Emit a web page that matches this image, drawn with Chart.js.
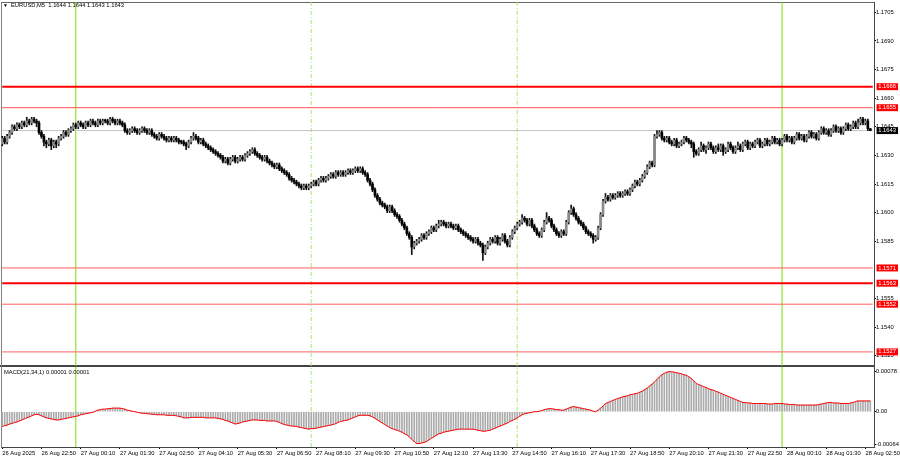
<!DOCTYPE html>
<html lang="en">
<head>
<meta charset="UTF-8">
<title>EURUSD,M5</title>
<script src="https://cdn.jsdelivr.net/npm/chart.js@4/dist/chart.umd.min.js"></script>
<style>
  html, body { margin: 0; padding: 0; background: #fff; }
  #wrap   { position: relative; width: 900px; height: 460px; overflow: hidden; background: #fff; }
  canvas  { position: absolute; left: 0; }
  #price  { top: 0; }
  #macd   { top: 366px; }
  .txt    { position: absolute; font: 5.8px 'Liberation Sans', Arial, sans-serif; color: #000;
            white-space: pre; line-height: 1; }
  #title  { left: 3px; top: 3px; }
  #title .tri { font-size: 5px; margin-right: 3px; }
  #macdTitle { left: 4px; top: 370px; }
</style>
</head>
<body>
<div id="wrap">
  <canvas id="price" width="900" height="368"></canvas>
  <canvas id="macd" width="900" height="94"></canvas>
  <div id="title" class="txt"><span class="tri">▼</span>EURUSD,M5  1.1644 1.1644 1.1643 1.1643</div>
  <div id="macdTitle" class="txt">MACD(21,34,1) 0.00001 0.00001</div>
</div>
<script>
// ---------------------------------------------------------------------------
// Daten: M5-Kerzen ab 26 Aug 21:30, Kurse in Pips über 1.1500
// ---------------------------------------------------------------------------

const BASE = 1.15;          // Kurs = BASE + pips / 10000
const FIRST_OPEN = 136;

const closes = [
  139,137,140,142,145,144,146,145,147,146, 148,147,149,148,147,142,140,137,136,138,
  135,137,136,139,140,142,141,143,144,146, 145,147,146,145,147,146,148,147,146,148,
  147,148,148,147,149,148,147,148,147,146, 143,142,143,144,143,142,143,144,143,142,
  143,141,140,139,141,140,139,138,139,138, 139,138,137,137,136,135,137,139,140,139,
  137,138,136,135,134,133,132,131,130,129, 127,128,126,128,129,127,128,129,128,130,
  131,132,133,131,130,129,128,129,127,126, 125,124,125,123,122,121,120,118,117,116,
  115,114,113,114,113,114,115,116,115,117, 118,117,118,119,120,119,121,120,121,120,
  121,122,121,122,123,122,123,121,120,117, 115,112,109,107,105,104,103,101,103,101,
  99,98,96,94,92,89,87,82,84,85,           86,88,87,89,90,92,91,93,94,95,
  94,93,94,93,92,93,91,90,89,88,           87,86,85,86,84,83,79,82,84,86,
  85,87,84,86,88,85,83,87,90,92,           94,95,97,96,94,96,93,91,89,88,
  91,95,97,96,93,91,89,88,90,89,           95,100,102,99,97,95,94,92,90,89,
  88,86,87,92,99,106,108,107,109,108,      109,110,109,110,111,110,112,114,116,115,
  117,119,121,124,126,125,140,141,142,139, 138,139,137,136,138,135,136,137,139,138,
  137,136,132,131,133,135,133,134,136,134, 132,134,133,135,132,133,136,134,132,134,
  135,133,136,137,134,136,135,137,138,135, 136,138,136,137,139,137,138,136,138,140,
  138,139,137,139,141,139,140,138,140,142, 140,141,139,142,144,142,143,141,143,145,
  143,144,142,144,146,144,145,147,145,147, 149,147,148,144,143
];

const highs = [
  140,140,141,143,146,146,147,147,148,148, 150,149,150,150,149,148,143,141,138,139,
  139,138,138,140,141,143,143,144,145,147, 147,148,148,147,148,148,149,149,148,149,
  149,149,149,149,150,150,149,149,149,148, 147,144,144,145,145,144,144,145,145,144,
  144,144,142,141,142,142,141,140,140,140, 140,140,139,138,138,137,138,140,142,141,
  140,139,139,137,136,135,134,133,132,131, 130,129,129,129,130,130,129,130,130,131,
  132,133,134,134,132,131,130,130,130,128, 127,126,126,126,124,123,122,121,119,118,
  117,116,115,115,115,115,116,117,117,118, 119,119,119,120,121,121,122,122,122,122,
  122,123,123,123,124,124,124,124,122,121, 118,116,113,110,108,106,105,104,104,104,
  102,100,99,97,95,93,90,88,85,86,         87,89,89,90,91,93,93,94,96,96,
  96,95,95,95,94,94,94,92,91,90,           89,88,87,87,87,85,84,83,85,87,
  87,88,88,87,89,89,86,88,91,93,           95,96,99,98,97,97,97,94,92,90,
  92,96,100,98,97,94,92,90,91,91,          96,101,104,103,100,98,96,95,93,91,
  90,89,88,93,100,107,110,109,110,110,     110,111,111,111,112,112,113,115,117,117,
  118,120,122,125,127,127,141,143,143,143, 140,140,140,138,139,139,137,138,140,140,
  139,138,137,133,134,137,136,135,137,137, 135,135,136,136,136,134,137,137,135,135,
  137,136,137,138,138,137,137,138,139,139, 137,139,139,138,140,140,139,139,139,141,
  141,140,140,140,142,142,141,141,141,143, 143,142,142,143,145,145,144,144,144,146,
  146,145,145,145,147,147,146,148,148,149, 150,150,149,149,144
];

const lows = [
  135,136,136,139,141,143,143,144,144,145, 145,146,146,147,145,141,139,135,134,135,
  133,134,134,135,138,139,140,140,142,143, 144,144,145,144,144,145,145,146,145,145,
  146,146,147,146,146,147,146,146,146,145, 142,141,141,142,142,141,141,142,142,141,
  141,140,139,138,138,139,138,137,137,137, 137,137,136,136,135,133,134,136,138,138,
  136,136,135,134,133,132,131,130,129,128, 126,126,125,125,127,126,126,127,127,127,
  129,130,131,130,129,128,127,127,126,125, 124,123,123,122,121,120,119,117,116,115,
  114,113,112,112,112,112,113,114,114,114, 116,116,116,117,118,118,118,119,119,119,
  119,120,120,120,121,121,121,120,119,116, 114,111,108,106,104,103,102,100,100,100,
  98,97,95,93,91,88,86,78,81,83,           84,85,86,86,88,89,90,90,92,93,
  93,92,92,92,91,91,90,89,88,87,           86,85,84,84,83,82,75,78,81,83,
  84,84,83,83,85,84,82,82,86,89,           91,93,94,95,93,93,92,90,88,87,
  87,90,94,95,92,90,88,87,87,88,           88,94,99,98,96,94,93,91,89,88,
  87,84,85,86,91,98,105,106,106,107,       107,108,108,108,109,109,109,111,113,114,
  114,116,118,120,123,124,124,139,140,138, 137,137,136,135,135,134,134,135,136,137,
  136,134,129,130,130,132,132,131,133,133, 131,131,132,132,130,131,132,133,131,131,
  133,132,132,135,133,133,134,134,136,134, 134,135,135,135,136,136,136,135,135,137,
  137,137,136,136,138,138,138,137,137,139, 139,139,138,138,141,141,141,140,140,142,
  142,142,141,141,143,143,143,144,144,144, 146,146,146,143,143
];

// MACD(21,34,1) in Einheiten von 0.00001
const macd = [
  -29,-27,-26,-24,-23,-21,-20,-18,-16,-14, -12,-10,-8,-6,-5,-6,-8,-10,-12,-13,
  -14,-15,-16,-16,-15,-14,-13,-12,-11,-10, -9,-8,-6,-5,-4,-3,-2,-1,1,3,
  4,5,5,6,6,7,7,7,7,6,                     5,3,2,1,0,-1,-2,-3,-3,-4,
  -4,-5,-5,-6,-6,-6,-6,-7,-7,-7,           -7,-8,-9,-10,-12,-12,-12,-11,-11,-11,
  -11,-11,-11,-12,-12,-12,-12,-12,-13,-14, -15,-17,-18,-20,-22,-24,-23,-22,-20,-19,
  -18,-17,-16,-16,-16,-17,-17,-17,-18,-18, -18,-18,-19,-21,-23,-25,-26,-27,-28,-28,
  -29,-30,-31,-32,-33,-34,-33,-33,-32,-31, -30,-29,-28,-27,-26,-25,-23,-21,-19,-18,
  -17,-16,-14,-12,-10,-8,-7,-7,-7,-7,      -8,-10,-13,-16,-19,-22,-25,-28,-31,-33,
  -35,-36,-38,-40,-43,-45,-49,-54,-58,-62, -62,-61,-60,-58,-55,-52,-49,-46,-43,-42,
  -40,-39,-38,-37,-36,-35,-34,-34,-34,-34, -34,-34,-34,-35,-36,-37,-38,-38,-37,-36,
  -34,-32,-30,-28,-26,-24,-22,-19,-17,-15, -12,-9,-6,-4,-3,-2,-1,0,0,1,
  2,4,5,6,6,5,4,4,3,3,                     5,7,9,10,9,8,7,6,5,4,
  3,1,0,3,7,11,16,18,20,22,                24,26,27,29,30,31,33,34,35,36,
  38,40,43,46,50,54,58,63,68,72,           75,77,78,78,77,76,75,74,72,71,
  68,65,60,55,53,51,49,47,45,43,           42,40,38,36,34,32,30,28,26,24,
  22,20,18,18,17,17,16,16,16,16,           16,16,15,15,15,16,16,16,16,15,
  15,14,14,14,13,13,13,13,13,13,           13,13,13,14,15,16,17,18,18,17,
  17,17,16,16,16,16,17,18,20,21,           21,21,21,21,21
];

// Horizontale Marken (Pips) und aktueller Bid
const levels = [166, 155, 71, 63, 52, 27];
const BID = 143;

// Achsenbeschriftungen
const priceTicks = [205, 190, 175, 160, 145, 130, 115, 100, 85, 55, 40, 25];
const macdTicks = [78, 0, -64];
const macdTickLabels = ['0.00078', '0.00', '-0.00064'];
const xTickLabels = [
  '26 Aug 2025', '26 Aug 22:50', '27 Aug 00:10', '27 Aug 01:30', '27 Aug 02:50',
  '27 Aug 04:10', '27 Aug 05:30', '27 Aug 06:50', '27 Aug 08:10', '27 Aug 09:30',
  '27 Aug 10:50', '27 Aug 12:10', '27 Aug 13:30', '27 Aug 14:50', '27 Aug 16:10',
  '27 Aug 17:30', '27 Aug 18:50', '27 Aug 20:10', '27 Aug 21:30', '27 Aug 22:50',
  '28 Aug 00:10', '28 Aug 01:30', '28 Aug 02:50'
];
const LABEL_EVERY = 16;

// Senkrechte Linien (Tageswechsel, Sessions)
const dayBreaks = ['27 Aug 00:00', '28 Aug 00:00'];
const sessionMarks = ['27 Aug 08:00', '27 Aug 15:00'];

// ---------------------------------------------------------------------------
// Kategorien (Zeitstempel je Kerze, plus ein leerer Slot rechts)
// ---------------------------------------------------------------------------

const START = Date.UTC(2025, 7, 26, 21, 30);
const pad2 = (n) => String(n).padStart(2, '0');
const categories = Array.from({ length: closes.length + 1 }, (_, i) => {
  const d = new Date(START + i * 5 * 60000);
  return `${d.getUTCDate()} Aug ${pad2(d.getUTCHours())}:${pad2(d.getUTCMinutes())}`;
});
const opens = closes.map((c, i) => (i === 0 ? FIRST_OPEN : closes[i - 1]));
const priceLabel = (v) => (BASE + v / 10000).toFixed(4);

// ---------------------------------------------------------------------------
// Stil
// ---------------------------------------------------------------------------

const FONT = { family: "'Liberation Sans', Arial, sans-serif", size: 5.8 };
Chart.defaults.font.family = FONT.family;
Chart.defaults.font.size = FONT.size;

const P_MIN = 19.6, P_MAX = 210.4;
const M_MIN = -68.8, M_MAX = 87.2;
const LEVEL_STYLE = {
  166: { color: '#ff0000', width: 2 },
  155: { color: '#ff5050', width: 1 },
  71:  { color: '#ff5a5a', width: 1 },
  63:  { color: '#ff0000', width: 2 },
  52:  { color: '#ff6060', width: 1 },
  27:  { color: '#ff8080', width: 1.4 },
};
const DAY_COLOR = '#76e000';
const SESSION_COLOR = '#a6ea6a';

// Achsen-Innenabstände (Label-Überhang) abschalten, damit der Plotbereich exakt sitzt
const noPad = (s) => { s.paddingTop = 0; s.paddingBottom = 0; s.paddingLeft = 0; s.paddingRight = 0; };

const hLine = (value, style, axis) => ({
  type: 'line', yAxisID: axis, order: 6,
  data: [{ x: categories[0], y: value }, { x: categories[categories.length - 1], y: value }],
  borderColor: style.color, borderWidth: style.width, pointRadius: 0, fill: false,
});

const vLine = (cat, lo, hi, color, dash, axis) => ({
  type: 'line', yAxisID: axis, order: 7,
  data: [{ x: cat, y: lo }, { x: cat, y: hi }],
  borderColor: color, borderWidth: 1, borderDash: dash, pointRadius: 0, fill: false,
});

const vLines = (lo, hi, axis) => [
  ...dayBreaks.map(c => vLine(c, lo, hi, DAY_COLOR, [], axis)),
  ...sessionMarks.map(c => vLine(c, lo, hi, SESSION_COLOR, [4, 2, 1, 2], axis)),
];

const frameAxis = (position, color, width) => ({
  type: position === 'left' ? 'linear' : 'category',
  position,
  ticks: { display: false },
  grid: { display: false },
  border: { display: true, color, width },
  afterFit: (s) => { noPad(s); if (position === 'left') s.width = 0; else s.height = 0; },
});

// ---------------------------------------------------------------------------
// Kurs-Chart
// ---------------------------------------------------------------------------

new Chart(document.getElementById('price'), {
  type: 'bar',
  data: {
    labels: categories,
    datasets: [
      // Dochte
      {
        yAxisID: 'y', order: 3, grouped: false, barThickness: 1,
        data: lows.map((l, i) => [l, highs[i]]),
        backgroundColor: '#111',
      },
      // Kerzenkörper (steigend hell, fallend schwarz)
      {
        yAxisID: 'y', order: 2, grouped: false, barThickness: 2, minBarLength: 1,
        data: closes.map((c, i) => [opens[i], c]),
        backgroundColor: (ctx) => closes[ctx.dataIndex] > opens[ctx.dataIndex] ? '#8a8a8a' : '#000',
        borderWidth: 0,
      },
      hLine(BID, { color: '#c4c4c4', width: 1 }, 'y'),
      ...levels.map(v => hLine(v, LEVEL_STYLE[v], 'y')),
      ...vLines(P_MIN, P_MAX, 'y'),
    ]
  },
  options: {
    responsive: false,
    animation: false,
    layout: { padding: { left: 1, top: 2, right: 0, bottom: 2 } },
    plugins: { legend: { display: false }, tooltip: { enabled: false } },
    scales: {
      x: frameAxis('bottom', '#454545', 2),
      xTop: frameAxis('top', '#666666', 1),
      yLeft: frameAxis('left', '#808080', 1),
      y: {
        type: 'linear', position: 'right', min: P_MIN, max: P_MAX, bounds: 'data', weight: 1,
        afterBuildTicks: (s) => { s.ticks = priceTicks.map(v => ({ value: v })); },
        ticks: { autoSkip: false, padding: 0, color: '#000', font: FONT, callback: (v) => priceLabel(v) },
        grid: { display: true, drawOnChartArea: false, drawTicks: true, tickLength: 2, color: '#000' },
        border: { display: true, color: '#454545', width: 1 },
        afterFit: (s) => { noPad(s); s.width = 26; },
      },
      // Preisschilder der Marken: gespiegelt, damit nicht auf die Achsenbreite geclippt wird
      yMarks: {
        type: 'linear', position: 'right', min: P_MIN, max: P_MAX, bounds: 'data', weight: 0,
        afterBuildTicks: (s) => { s.ticks = [...levels, BID].map(v => ({ value: v })); },
        ticks: {
          autoSkip: false, mirror: true, padding: 22, color: '#fff', font: FONT,
          showLabelBackdrop: true,
          backdropColor: (ctx) => ctx.tick && ctx.tick.value === BID ? '#000' : '#ff0000',
          backdropPadding: { left: 1.7, right: 2, top: 0, bottom: 0 },
          callback: (v) => priceLabel(v),
        },
        grid: { display: false },
        border: { display: false },
        afterFit: (s) => { noPad(s); s.width = 0; },
      },
    }
  }
});

// ---------------------------------------------------------------------------
// MACD-Fenster
// ---------------------------------------------------------------------------

new Chart(document.getElementById('macd'), {
  type: 'bar',
  data: {
    labels: categories,
    datasets: [
      {
        type: 'line', yAxisID: 'y', order: 1,
        data: macd, borderColor: '#ff0000', borderWidth: 1, pointRadius: 0, tension: 0, fill: false,
      },
      {
        yAxisID: 'y', order: 2, grouped: false, barThickness: 1,
        data: macd, backgroundColor: '#ababab',
      },
      ...vLines(M_MIN, M_MAX, 'y'),
    ]
  },
  options: {
    responsive: false,
    animation: false,
    layout: { padding: { left: 1, top: 1, right: 0, bottom: 0 } },
    plugins: { legend: { display: false }, tooltip: { enabled: false } },
    scales: {
      x: {
        position: 'bottom',
        ticks: {
          autoSkip: false, maxRotation: 0, minRotation: 0, align: 'start', padding: 1,
          color: '#000', font: FONT,
          callback: (v, i) => (i % LABEL_EVERY === 0 ? xTickLabels[i / LABEL_EVERY] : null),
        },
        grid: { display: true, drawOnChartArea: false, drawTicks: true, tickLength: 2, offset: false, color: '#000' },
        border: { display: true, color: '#454545', width: 1 },
        afterFit: (s) => { noPad(s); s.height = 13; },
      },
      yLeft: frameAxis('left', '#808080', 1),
      y: {
        type: 'linear', position: 'right', min: M_MIN, max: M_MAX, bounds: 'data',
        afterBuildTicks: (s) => { s.ticks = macdTicks.map(v => ({ value: v })); },
        ticks: { autoSkip: false, padding: 0, color: '#000', font: FONT,
                 callback: (v, i) => macdTickLabels[i] },
        grid: { display: true, drawOnChartArea: false, drawTicks: true, tickLength: 2, color: '#000' },
        border: { display: true, color: '#454545', width: 1 },
        afterFit: (s) => { noPad(s); s.width = 26; },
      },
    }
  }
});
</script>
</body>
</html>
